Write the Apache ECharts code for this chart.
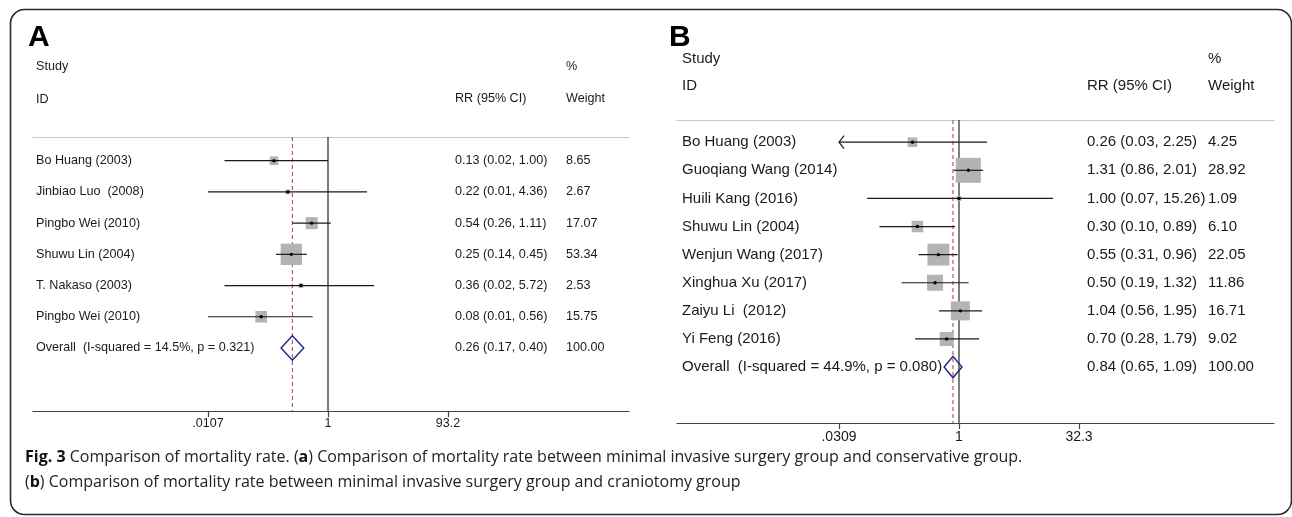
<!DOCTYPE html>
<html>
<head>
<meta charset="utf-8">
<script src="https://cdn.jsdelivr.net/npm/echarts@6/dist/echarts.min.js"></script>
<style>
  html, body { margin: 0; padding: 0; background: #fff; }
  #chart { width: 1292px; height: 517px; }
</style>
</head>
<body>
<div id="chart"></div>
<script>
// ---- panel A: minimal invasive surgery vs conservative ----
const studiesA = ['Bo Huang (2003)', 'Jinbiao Luo  (2008)', 'Pingbo Wei (2010)', 'Shuwu Lin (2004)', 'T. Nakaso (2003)', 'Pingbo Wei (2010)'];
const rrA = [0.13, 0.22, 0.54, 0.25, 0.36, 0.08];
const lowA = [0.02, 0.01, 0.26, 0.14, 0.02, 0.01];
const highA = [1.00, 4.36, 1.11, 0.45, 5.72, 0.56];
const weightA = [8.65, 2.67, 17.07, 53.34, 2.53, 15.75];
const offScaleA = [0, 0, 0, 0, 0, 0];   // CI runs past the axis (arrow drawn)
const overallLabelA = 'Overall  (I-squared = 14.5%, p = 0.321)';
const overallA = [0.26, 0.17, 0.40, 100.00];
const tickLabelsA = ['.0107', '1', '93.2'];
const axisMaxA = 93.2;

// ---- panel B: minimal invasive surgery vs craniotomy ----
const studiesB = ['Bo Huang (2003)', 'Guoqiang Wang (2014)', 'Huili Kang (2016)', 'Shuwu Lin (2004)', 'Wenjun Wang (2017)', 'Xinghua Xu (2017)', 'Zaiyu Li  (2012)', 'Yi Feng (2016)'];
const rrB = [0.26, 1.31, 1.00, 0.30, 0.55, 0.50, 1.04, 0.70];
const lowB = [0.03, 0.86, 0.07, 0.10, 0.31, 0.19, 0.56, 0.28];
const highB = [2.25, 2.01, 15.26, 0.89, 0.96, 1.32, 1.95, 1.79];
const weightB = [4.25, 28.92, 1.09, 6.10, 22.05, 11.86, 16.71, 9.02];
const offScaleB = [1, 0, 0, 0, 0, 0, 0, 0];
const overallLabelB = 'Overall  (I-squared = 44.9%, p = 0.080)';
const overallB = [0.84, 0.65, 1.09, 100.00];
const tickLabelsB = ['.0309', '1', '32.3'];
const axisMaxB = 32.3;

const FONT = '"Liberation Sans", Arial, sans-serif';
const INK = '#1a1a1a';
const fmt = v => v.toFixed(2);

function txt(x, y, s, fs) {
    return { type: 'text', x: x, y: y, style: { text: s, fontFamily: FONT, fontSize: fs, fill: INK, verticalAlign: 'middle' } };
}

// one study row: box, CI line, point estimate, texts
function rowRenderer(p) {
    return function (params, api) {
        const rr = api.value(0), i = api.value(1), lo = api.value(2), hi = api.value(3), w = api.value(4);
        const y = api.coord([1, i])[1];
        const xr = api.coord([rr, i])[0];
        const xl = api.coord([Math.max(lo, p.min), i])[0];
        const xh = api.coord([Math.min(hi, p.max), i])[0];
        const s = p.box * Math.sqrt(w);
        const kids = [
            { type: 'rect', shape: { x: xr - s / 2, y: y - s / 2, width: s, height: s }, style: { fill: '#b3b3b3' } },
            { type: 'line', shape: { x1: xl, y1: y, x2: xh, y2: y }, style: { stroke: INK, lineWidth: 1.2 } },
            { type: 'circle', shape: { cx: xr, cy: y, r: 1.7 }, style: { fill: '#000' } },
            txt(p.nameX, y, p.names[params.dataIndex], p.fs),
            txt(p.rrX, y, fmt(rr) + ' (' + fmt(lo) + ', ' + fmt(hi) + ')', p.fs),
            txt(p.wX, y, fmt(w), p.fs)
        ];
        if (p.off[params.dataIndex]) {
            kids.push({ type: 'polyline', shape: { points: [[xl + 5, y - 6.5], [xl, y], [xl + 5, y + 6.5]] },
                style: { stroke: INK, fill: null, lineWidth: 1.2 } });
        }
        return { type: 'group', children: kids };
    };
}

// overall row: null line, pooled dashed line, diamond, texts
function overallRenderer(p) {
    return function (params, api) {
        const rr = api.value(0), i = api.value(1), lo = api.value(2), hi = api.value(3), w = api.value(4);
        const cs = params.coordSys;
        const y = api.coord([1, i])[1];
        const x1 = api.coord([1, i])[0];
        const xr = api.coord([rr, i])[0];
        const xl = api.coord([lo, i])[0];
        const xh = api.coord([hi, i])[0];
        const h = p.dh / 2;
        return {
            type: 'group',
            children: [
                { type: 'line', shape: { x1: x1, y1: cs.y, x2: x1, y2: cs.y + cs.height }, style: { stroke: '#111', lineWidth: 1.1 }, z2: 1 },
                { type: 'line', shape: { x1: xr, y1: cs.y, x2: xr, y2: cs.y + cs.height }, style: { stroke: '#a33a4a', lineWidth: 1, lineDash: [4, 3] }, z2: 1 },
                { type: 'polygon', shape: { points: [[xl, y], [xr, y - h], [xh, y], [xr, y + h]] }, style: { stroke: '#1c2580', fill: null, lineWidth: 1.4 }, z2: 5 },
                txt(p.nameX, y, p.label, p.fs),
                txt(p.rrX, y, fmt(rr) + ' (' + fmt(lo) + ', ' + fmt(hi) + ')', p.fs),
                txt(p.wX, y, fmt(w), p.fs)
            ]
        };
    };
}

function logAxis(gridIndex, maxV, labels, fs, margin) {
    return {
        type: 'log', gridIndex: gridIndex, logBase: maxV, min: 1 / maxV, max: maxV,
        splitNumber: 5,
        axisLine: { show: false, onZero: false },
        axisTick: { show: true, length: 6, lineStyle: { color: '#444', width: 1.2 } },
        axisLabel: {
            fontFamily: FONT, fontSize: fs, color: INK, margin: margin,
            formatter: v => labels[Math.round(Math.log(v) / Math.log(maxV)) + 1]
        },
        splitLine: { show: false }
    };
}
function lineAxis(gridIndex, position, color, width) {
    return {
        type: 'value', gridIndex: gridIndex, position: position, min: 0, max: 1,
        axisLine: { show: true, onZero: false, lineStyle: { color: color, width: width } },
        axisTick: { show: false }, axisLabel: { show: false }, splitLine: { show: false }
    };
}
function rowAxis(gridIndex, min, max) {
    return { type: 'value', gridIndex: gridIndex, inverse: true, min: min, max: max, show: false };
}

const pA = { min: 1 / axisMaxA, max: axisMaxA, box: 2.92, names: studiesA, off: offScaleA, label: overallLabelA, nameX: 36, rrX: 455, wX: 566, fs: 12.6, dh: 24.5 };
const pB = { min: 1 / axisMaxB, max: axisMaxB, box: 4.65, names: studiesB, off: offScaleB, label: overallLabelB, nameX: 682, rrX: 1087, wX: 1208, fs: 15, dh: 21.5 };

const rowsA = studiesA.map((_, i) => [rrA[i], i, lowA[i], highA[i], weightA[i]]);
const rowsB = studiesB.map((_, i) => [rrB[i], i, lowB[i], highB[i], weightB[i]]);

const headers = [
    { t: 'A', x: 28, y: 38, fs: 30, bold: true },
    { t: 'Study', x: 36, y: 67, fs: 12.6 },
    { t: 'ID', x: 36, y: 99.5, fs: 12.6 },
    { t: '%', x: 566, y: 67, fs: 12.6 },
    { t: 'RR (95% CI)', x: 455, y: 98.5, fs: 12.6 },
    { t: 'Weight', x: 566, y: 98.5, fs: 12.6 },
    { t: 'B', x: 669, y: 38, fs: 30, bold: true },
    { t: 'Study', x: 682, y: 58.5, fs: 15 },
    { t: 'ID', x: 682, y: 86, fs: 15 },
    { t: '%', x: 1208, y: 58.5, fs: 15 },
    { t: 'RR (95% CI)', x: 1087, y: 86, fs: 15 },
    { t: 'Weight', x: 1208, y: 86, fs: 15 }
];

const CAP = '"Open Sans", "Noto Sans", sans-serif';
const caption = '{b|Fig. 3} Comparison of mortality rate. ({b|a}) Comparison of mortality rate between minimal invasive surgery group and conservative group.\n' +
    '({b|b}) Comparison of mortality rate between minimal invasive surgery group and craniotomy group';

const chart = echarts.init(document.getElementById('chart'));
chart.setOption({
    animation: false,
    backgroundColor: '#fff',
    grid: [
        { left: 208, top: 137, width: 240, height: 274 },
        { left: 33, top: 137, width: 596, height: 274 },
        { left: 839, top: 120, width: 240, height: 303 },
        { left: 677, top: 120, width: 597, height: 303 }
    ],
    xAxis: [
        logAxis(0, axisMaxA, tickLabelsA, 12.5, 6),
        lineAxis(1, 'bottom', '#444', 1.2),
        lineAxis(1, 'top', '#c8c8c8', 1),
        logAxis(2, axisMaxB, tickLabelsB, 14, 7),
        lineAxis(3, 'bottom', '#444', 1.2),
        lineAxis(3, 'top', '#c8c8c8', 1)
    ],
    yAxis: [
        rowAxis(0, -0.76, 8.02),
        rowAxis(1, 0, 1),
        rowAxis(2, -0.79, 9.99),
        rowAxis(3, 0, 1)
    ],
    series: [
        { type: 'custom', xAxisIndex: 0, yAxisIndex: 0, encode: { x: 0, y: 1 }, z: 2,
          renderItem: overallRenderer(pA), data: [[overallA[0], studiesA.length, overallA[1], overallA[2], overallA[3]]] },
        { type: 'custom', xAxisIndex: 0, yAxisIndex: 0, encode: { x: 0, y: 1 }, z: 3,
          renderItem: rowRenderer(pA), data: rowsA },
        { type: 'custom', xAxisIndex: 3, yAxisIndex: 2, encode: { x: 0, y: 1 }, z: 2,
          renderItem: overallRenderer(pB), data: [[overallB[0], studiesB.length, overallB[1], overallB[2], overallB[3]]] },
        { type: 'custom', xAxisIndex: 3, yAxisIndex: 2, encode: { x: 0, y: 1 }, z: 3,
          renderItem: rowRenderer(pB), data: rowsB }
    ],
    graphic: [
        { type: 'rect', shape: { x: 10.5, y: 9.5, width: 1281, height: 505, r: 14 },
          style: { fill: null, stroke: '#2a2a2a', lineWidth: 1.6 }, silent: true }
    ].concat(headers.map(h => ({
        type: 'text', x: h.x, y: h.y, silent: true,
        style: {
            text: h.t, fontFamily: FONT, fontSize: h.fs,
            fontWeight: h.bold ? 'bold' : 'normal', fill: h.bold ? '#000' : INK, verticalAlign: 'middle'
        }
    }))).concat([{
        type: 'text', x: 25, y: 444.5, silent: true,
        style: {
            text: caption, fontFamily: CAP, fontSize: 16, fill: '#222', lineHeight: 25, verticalAlign: 'top',
            rich: { b: { fontFamily: CAP, fontSize: 16, fontWeight: 'bold', fill: '#111', lineHeight: 25 } }
        }
    }])
});
</script>
</body>
</html>
